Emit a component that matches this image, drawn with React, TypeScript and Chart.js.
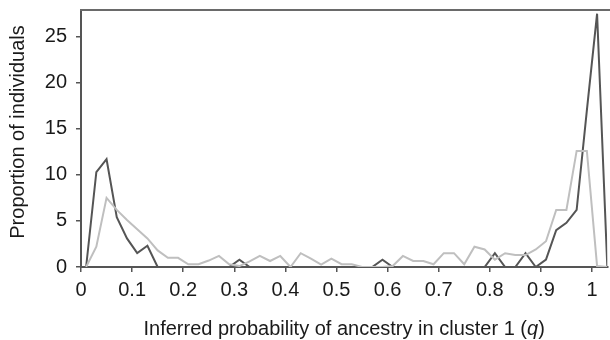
import { useEffect, useRef } from "react";
import { Chart, registerables } from "chart.js";

Chart.register(...registerables);

const qBins = [
  0.01, 0.03, 0.05, 0.07, 0.09, 0.11, 0.13, 0.15, 0.17, 0.19,
  0.21, 0.23, 0.25, 0.27, 0.29, 0.31, 0.33, 0.35, 0.37, 0.39,
  0.41, 0.43, 0.45, 0.47, 0.49, 0.51, 0.53, 0.55, 0.57, 0.59,
  0.61, 0.63, 0.65, 0.67, 0.69, 0.71, 0.73, 0.75, 0.77, 0.79,
  0.81, 0.83, 0.85, 0.87, 0.89, 0.91, 0.93, 0.95, 0.97, 0.99,
  1.01, 1.03,
];

const darkSeries = [
  0, 10.3, 11.7, 5.4, 3.1, 1.5, 2.3, 0, 0, 0,
  0, 0, 0, 0, 0, 0.8, 0, 0, 0, 0,
  0, 0, 0, 0, 0, 0, 0, 0, 0, 0.8,
  0, 0, 0, 0, 0, 0, 0, 0, 0, 0,
  1.5, 0, 0, 1.5, 0, 0.8, 4.0, 4.8, 6.2, 17.0,
  27.5, 0,
];

const lightSeries = [
  0, 2.2, 7.5, 6.2, 5.1, 4.1, 3.1, 1.8, 1.0, 1.0,
  0.3, 0.3, 0.7, 1.2, 0.3, 0.1, 0.6, 1.2, 0.65, 1.2,
  0, 1.5, 0.9, 0.25, 0.9, 0.3, 0.3, 0, 0, 0,
  0.1, 1.2, 0.65, 0.65, 0.3, 1.5, 1.5, 0.3, 2.2, 1.9,
  0.8, 1.5, 1.3, 1.3, 1.9, 2.8, 6.2, 6.2, 12.6, 12.6,
  0.1, 0,
];

const xTickValues = [0, 0.1, 0.2, 0.3, 0.4, 0.5, 0.6, 0.7, 0.8, 0.9, 1];
const xTickLabels = ["0", "0.1", "0.2", "0.3", "0.4", "0.5", "0.6", "0.7", "0.8", "0.9", "1"];
const yTickValues = [0, 5, 10, 15, 20, 25];
const yTickLabels = ["0", "5", "10", "15", "20", "25"];

const xTitleParts = ["Inferred probability of ancestry in cluster 1 (", "q", ")"];
const yTitle = "Proportion of individuals";

const FONT = "'Liberation Sans', Arial, Helvetica, sans-serif";
const AXIS_COLOR = "#555555";
const TEXT_COLOR = "#1a1a1a";

const framePlugin = {
  id: "frameTop",
  beforeDatasetsDraw(chart: any) {
    const { ctx, chartArea } = chart;
    ctx.save();
    ctx.strokeStyle = "#6a6a6a";
    ctx.lineWidth = 2;
    ctx.beginPath();
    ctx.moveTo(chartArea.left - 1, chartArea.top);
    ctx.lineTo(chart.width, chartArea.top);
    ctx.stroke();
    ctx.restore();
  },
  afterDraw(chart: any) {
    const { ctx, chartArea } = chart;
    ctx.save();
    ctx.fillStyle = TEXT_COLOR;
    ctx.textBaseline = "alphabetic";
    const normal = `20px ${FONT}`;
    const italic = `italic 20px ${FONT}`;
    const fonts = [normal, italic, normal];
    let total = 0;
    const widths = xTitleParts.map((t, i) => {
      ctx.font = fonts[i];
      const w = ctx.measureText(t).width;
      total += w;
      return w;
    });
    const cx = (chartArea.left + chartArea.right) / 2;
    let x = cx - total / 2;
    const baseline = 335;
    xTitleParts.forEach((t, i) => {
      ctx.font = fonts[i];
      ctx.textAlign = "left";
      ctx.fillText(t, x, baseline);
      x += widths[i];
    });
    // y-axis title
    ctx.font = normal;
    ctx.textAlign = "center";
    ctx.textBaseline = "middle";
    ctx.translate(18, 132);
    ctx.rotate(-Math.PI / 2);
    ctx.fillText(yTitle, 0, 0);
    ctx.restore();
  },
};

export default function App() {
  const canvasRef = useRef<HTMLCanvasElement | null>(null);

  useEffect(() => {
    if (!canvasRef.current) return;
    const chart = new Chart(canvasRef.current, {
      type: "line",
      data: {
        datasets: [
          {
            label: "light",
            data: qBins.map((q, i) => ({ x: q, y: lightSeries[i] })),
            borderColor: "#bfbfbf",
            borderWidth: 2,
            pointRadius: 0,
            tension: 0,
            fill: false,
          },
          {
            label: "dark",
            data: qBins.map((q, i) => ({ x: q, y: darkSeries[i] })),
            borderColor: "#555555",
            borderWidth: 2,
            pointRadius: 0,
            tension: 0,
            fill: false,
          },
        ],
      },
      options: {
        animation: false,
        responsive: false,
        maintainAspectRatio: false,
        layout: { padding: { left: 0, right: 2.7, top: 10, bottom: 0 } },
        plugins: {
          legend: { display: false },
          tooltip: { enabled: false },
        },
        scales: {
          x: {
            type: "linear",
            min: 0,
            max: 1.03,
            afterBuildTicks: (scale: any) => {
              scale.ticks = xTickValues.map((v) => ({ value: v }));
            },
            afterFit: (scale: any) => {
              scale.height = 73;
              scale.paddingLeft = 0;
              scale.paddingRight = 0;
            },
            grid: {
              display: true,
              drawOnChartArea: false,
              drawTicks: true,
              tickLength: 5,
              color: AXIS_COLOR,
              lineWidth: 1.5,
            },
            border: { display: true, color: AXIS_COLOR, width: 2 },
            ticks: {
              autoSkip: false,
              maxRotation: 0,
              padding: 6,
              color: TEXT_COLOR,
              font: { family: FONT, size: 20 },
              callback: (_v: any, i: number) => xTickLabels[i],
            },
            title: { display: false },
          },
          y: {
            type: "linear",
            min: 0,
            max: 27.9,
            afterBuildTicks: (scale: any) => {
              scale.ticks = yTickValues.map((v) => ({ value: v }));
            },
            afterFit: (scale: any) => {
              scale.width = 81;
              scale.paddingTop = 0;
              scale.paddingBottom = 0;
            },
            grid: {
              display: true,
              drawOnChartArea: false,
              drawTicks: true,
              tickLength: 5,
              color: AXIS_COLOR,
              lineWidth: 1.5,
            },
            border: { display: true, color: AXIS_COLOR, width: 2 },
            ticks: {
              padding: 9,
              color: TEXT_COLOR,
              font: { family: FONT, size: 20 },
              callback: (_v: any, i: number) => yTickLabels[i],
            },
            title: { display: false },
          },
        },
      },
      plugins: [framePlugin],
    });
    return () => chart.destroy();
  }, []);

  return (
    <div style={{ position: "fixed", left: 0, top: 0, width: 610, height: 340, background: "#fff" }}>
      <canvas ref={canvasRef} width={610} height={340} />
    </div>
  );
}
